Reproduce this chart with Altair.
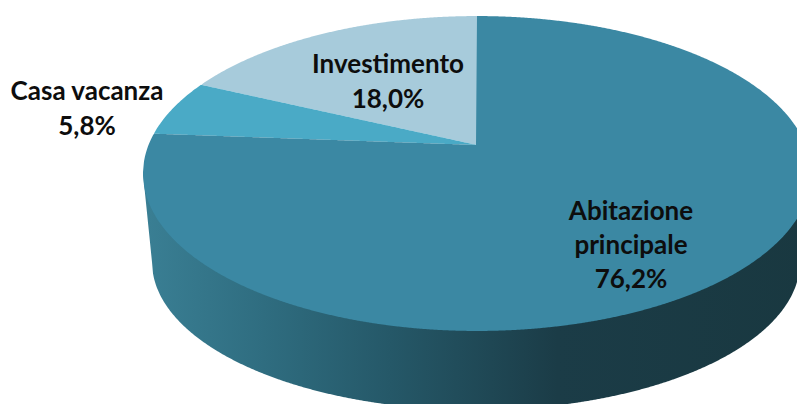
import numpy as np
import pandas as pd
import altair as alt

# values
categories = ["Investimento", "Casa vacanza", "Abitazione principale"]
shares = [18.0, 5.8, 76.2]
label_lines = [["Investimento", "18,0%"], ["Casa vacanza", "5,8%"], ["Abitazione", "principale", "76,2%"]]
label_x = [388, 87, 631]
label_y = [[65, 100], [92, 127], [212, 246, 280]]
slice_colors = ["#a7cbdb", "#4aaac6", "#3b88a3"]

# view of the tilted disc
AX, AY = 477.0, 145.0      # where the slices meet
A, B, K = 328.5, 152.3, 0.181
ELL_CX, ELL_CY, ELL_RX, ELL_RY = 477.0, 173.5, 334.0, 157.5
BOT_CX, BOT_CY, BOT_RX, BOT_RY = 476.0, 262.0, 324.0, 148.0


def project(theta):
    X, Y = -np.sin(theta), -np.cos(theta)
    w = 1 - K * Y
    return AX + A * X / w, AY + B * Y / w


def band(poly, name):
    """Turn a closed outline into x / y / y2 rows for an area mark."""
    px, py = poly
    xs = np.arange(np.floor(px.min()), np.ceil(px.max()) + 1, 1.0)
    xs = np.unique(np.concatenate([xs, px[np.isclose(px, AX)]]))
    xs = xs[(xs >= px.min()) & (xs <= px.max())]
    rows = []
    qx, qy = np.r_[px, px[0]], np.r_[py, py[0]]
    for x in xs:
        # nudge off the vertices so every vertical crosses cleanly
        xt = x + 1e-4 if x < px.max() else x - 1e-4
        hits = []
        for i in range(len(px)):
            x0, x1 = qx[i], qx[i + 1]
            if (x0 - xt) * (x1 - xt) < 0:
                hits.append(qy[i] + (xt - x0) / (x1 - x0) * (qy[i + 1] - qy[i]))
        if hits:
            rows.append({"x": xt, "y": min(hits), "y2": max(hits), "slice": name})
    return rows


# slices from the shares, anticlockwise from the top
edges = np.r_[0, np.cumsum(shares)] / 100 * 2 * np.pi
rows = []
for i, name in enumerate(categories):
    th = np.linspace(edges[i], edges[i + 1], 700)
    ex, ey = project(th)
    rows += band((np.r_[AX, ex], np.r_[AY, ey]), name)
slices = pd.DataFrame(rows)

# side wall
xs = np.arange(ELL_CX - ELL_RX, ELL_CX + ELL_RX + 1, 1.0)
bot = BOT_CY + BOT_RY * np.sqrt(np.clip(1 - ((xs - BOT_CX) / BOT_RX) ** 2, 0, 1))
left = xs < BOT_CX - BOT_RX
right = xs > BOT_CX + BOT_RX
bot[left] = ELL_CY + (xs[left] - (ELL_CX - ELL_RX)) / (ELL_RX - BOT_RX - (ELL_CX - BOT_CX)) * (BOT_CY - ELL_CY)
bot[right] = ELL_CY + ((ELL_CX + ELL_RX) - xs[right]) / ((ELL_CX + ELL_RX) - (BOT_CX + BOT_RX)) * (BOT_CY - ELL_CY)
wall = pd.DataFrame({"x": xs, "y": ELL_CY, "y2": bot})

labels = pd.DataFrame(
    [
        {"x": label_x[i], "y": label_y[i][j], "t": t}
        for i in range(3)
        for j, t in enumerate(label_lines[i])
    ]
)

xs_scale = alt.Scale(domain=[8, 797], nice=False, zero=False)
ys_scale = alt.Scale(domain=[8, 404], nice=False, zero=False, reverse=True)
X = alt.X("x:Q", scale=xs_scale, axis=None)
Y = alt.Y("y:Q", scale=ys_scale, axis=None)

wall_layer = (
    alt.Chart(wall)
    .mark_area(
        clip=True,
        color=alt.Gradient(
            gradient="linear",
            x1=0, x2=1, y1=0, y2=0,
            stops=[
                alt.GradientStop(offset=0.0, color="#3a7f94"),
                alt.GradientStop(offset=0.18, color="#2f6d80"),
                alt.GradientStop(offset=0.37, color="#255868"),
                alt.GradientStop(offset=0.62, color="#1b3c47"),
                alt.GradientStop(offset=1.0, color="#193840"),
            ],
        ),
    )
    .encode(x=X, y=Y, y2="y2:Q")
)

slice_layer = (
    alt.Chart(slices)
    .mark_area(clip=True, interpolate="linear")
    .encode(
        x=X,
        y=Y,
        y2="y2:Q",
        color=alt.Color("slice:N", scale=alt.Scale(domain=categories, range=slice_colors), legend=None),
        detail="slice:N",
    )
)

text_layer = (
    alt.Chart(labels)
    .mark_text(font="Lato", fontWeight="bold", fontSize=26, color="#0d0d0d", align="center", baseline="middle")
    .encode(x=X, y=Y, text="t:N")
)

chart = (
    alt.layer(wall_layer, slice_layer, text_layer)
    .properties(width=789, height=396, padding=0)
    .configure_view(stroke=None)
)
chart.save("out.html", embed_options={"renderer": "svg", "actions": False})
